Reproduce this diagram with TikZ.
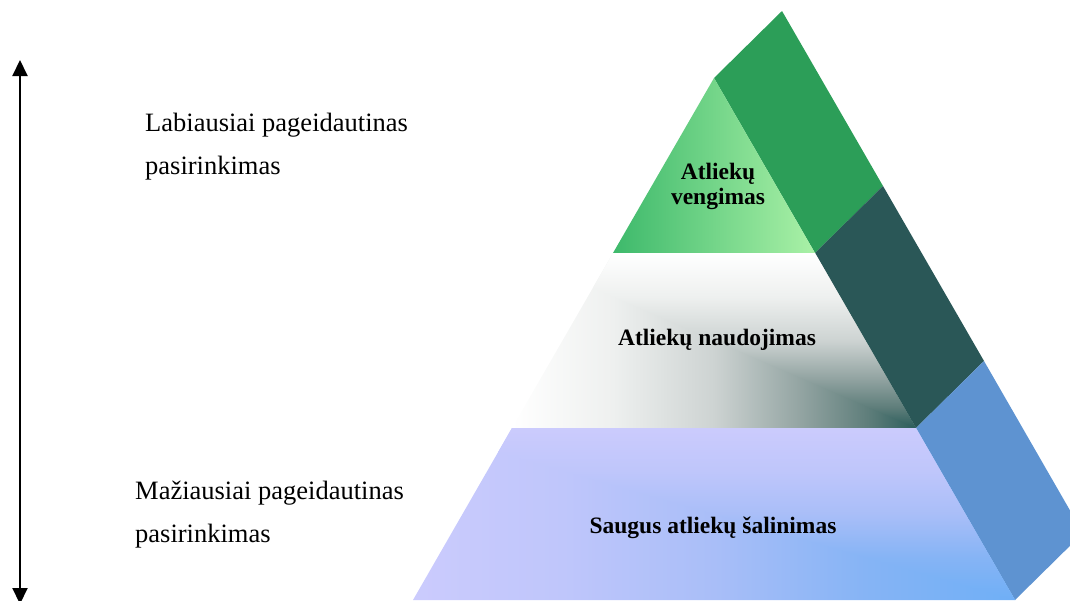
\documentclass[tikz,border=0pt]{standalone}
\usepackage{fontspec}
\setmainfont{Liberation Serif}
\usetikzlibrary{arrows.meta}
\definecolor{grnL}{HTML}{3DB96B}
\definecolor{grnR}{HTML}{AAF1A7}
\definecolor{sideG}{HTML}{2C9E58}
\definecolor{sideT}{HTML}{2A5757}
\definecolor{sideB}{HTML}{5E93D1}
\definecolor{m0}{HTML}{2B5D5B}
\definecolor{m1}{HTML}{5F7E7B}
\definecolor{m2}{HTML}{94A5A3}
\definecolor{m3}{HTML}{CDD3D2}
\definecolor{m4}{HTML}{EEF0EF}
\definecolor{m5}{HTML}{FFFFFF}
\definecolor{b0}{HTML}{6FAFF6}
\definecolor{b1}{HTML}{86B4F5}
\definecolor{b2}{HTML}{A9BEF8}
\definecolor{b3}{HTML}{BFC6FB}
\definecolor{b4}{HTML}{CBCBFD}
\pgfdeclarehorizontalshading{midH}{100bp}{color(0bp)=(m5); color(25bp)=(m5); color(37.5bp)=(m4); color(50bp)=(m3); color(60.5bp)=(m2); color(69bp)=(m1); color(75bp)=(m0); color(100bp)=(m0)}
\pgfdeclareverticalshading{midV}{100bp}{color(0bp)=(m0); color(25bp)=(m0); color(31bp)=(m1); color(39.5bp)=(m2); color(50bp)=(m3); color(62.5bp)=(m4); color(75bp)=(m5); color(100bp)=(m5)}
\pgfdeclarehorizontalshading{botH}{100bp}{color(0bp)=(b4); color(25bp)=(b4); color(37.5bp)=(b3); color(50bp)=(b2); color(62.5bp)=(b1); color(75bp)=(b0); color(100bp)=(b0)}
\pgfdeclareverticalshading{botV}{100bp}{color(0bp)=(b0); color(25bp)=(b0); color(37.5bp)=(b1); color(50bp)=(b2); color(62.5bp)=(b3); color(75bp)=(b4); color(100bp)=(b4)}
\begin{document}
\begin{tikzpicture}[x=1pt,y=-1pt,
  lbl/.style={font=\fontsize{26.5}{43}\selectfont, align=left, inner sep=0pt, anchor=base west},
  blbl/.style={font=\bfseries\fontsize{23.5}{25}\selectfont, align=center, inner sep=0pt, anchor=base},
  arr/.style={line width=2pt, {Triangle[length=16pt,width=15pt]}-{Triangle[length=16pt,width=15pt]}}]
\useasboundingbox (0,0) rectangle (1070,600);
\clip (0,0) rectangle (1070,600);
% key points
\coordinate (A) at (714,78);
\coordinate (Ab) at (782,11);
\coordinate (L1) at (613,253);
\coordinate (R1) at (815,253);
\coordinate (R1b) at (883,186);
\coordinate (L2) at (512,428);
\coordinate (R2) at (916,428);
\coordinate (R2b) at (984,361);
\coordinate (L3) at (413,600);
\coordinate (R3) at (1015,600);
\coordinate (R3b) at (1083,533);
% side faces
\fill[sideG] (A) -- (Ab) -- (R1b) -- (R1) -- cycle;
\fill[sideT] (R1) -- (R1b) -- (R2b) -- (R2) -- cycle;
\fill[sideB] (R2) -- (R2b) -- (R3b) -- (R3) -- cycle;
% top level
\shade[left color=grnL, right color=grnR] (A) -- (L1) -- (R1) -- cycle;
% middle level
\begin{scope}
  \clip (L1) -- (R1) -- (R2) -- (L2) -- cycle;
  \shade[shading=midH] (512,253) rectangle (916,428);
  \shade[shading=midV] (R2) -- (512,253) -- (916,253) -- cycle;
\end{scope}
% bottom level
\begin{scope}
  \clip (L2) -- (R2) -- (R3) -- (L3) -- cycle;
  \shade[shading=botH] (413,428) rectangle (1015,600);
  \shade[shading=botV] (R3) -- (413,428) -- (1015,428) -- cycle;
\end{scope}
% arrow
\coordinate (up) at (20,60);
\coordinate (dn) at (20,604);
\draw[arr] (up) -- (dn);
% texts
\node[lbl] (most) at (145,174) {Labiausiai pageidautinas\\pasirinkimas};
\node[lbl] (least) at (135,542) {Mažiausiai pageidautinas\\pasirinkimas};
\node[blbl] (t1) at (718,204) {Atliekų\\vengimas};
\node[blbl] (t2) at (717,345) {Atliekų naudojimas};
\node[blbl] (t3) at (713,533) {Saugus atliekų šalinimas};
\end{tikzpicture}
\end{document}
